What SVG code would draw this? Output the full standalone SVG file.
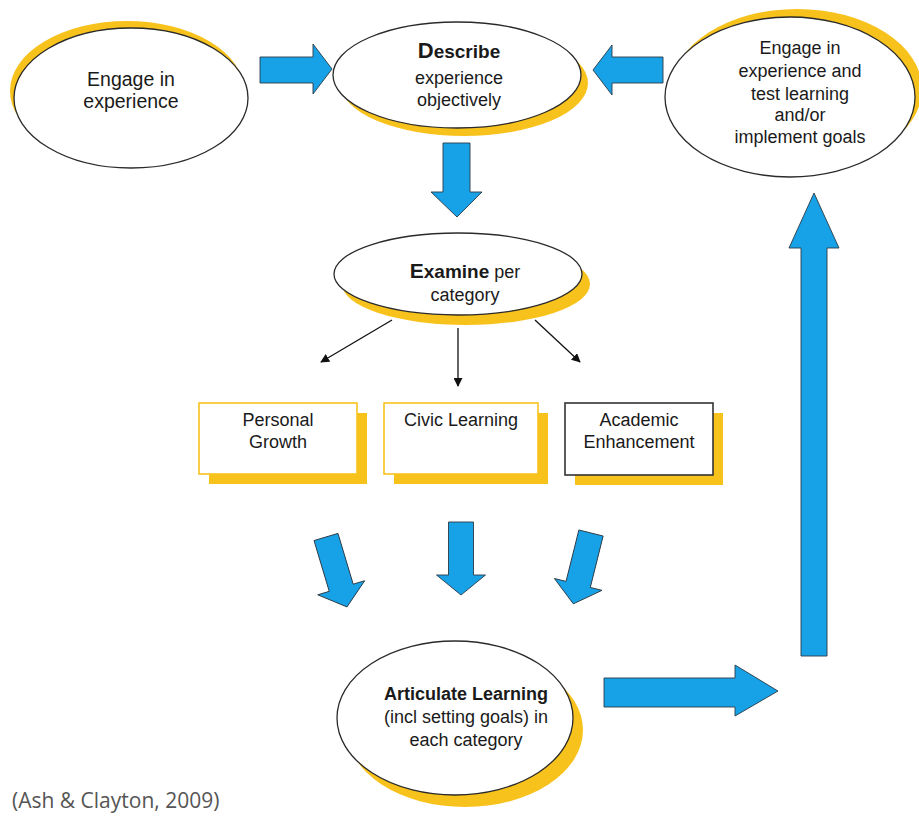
<svg xmlns="http://www.w3.org/2000/svg" width="919" height="817" viewBox="0 0 919 817">
<style>
.t{font-family:"Liberation Sans",Arial,sans-serif;font-size:18px;fill:#1a1a1a;text-anchor:middle}
.b{font-weight:bold}
.ell{fill:#fff;stroke:#2a2a2a;stroke-width:1.3}
.yel{fill:#f8c21d}
.blue{fill:#17a2e8;stroke:#2b3a45;stroke-width:0.9;stroke-linejoin:miter}
.box{fill:#fff;stroke-width:1.6}
.thin{stroke:#111;stroke-width:1.3;fill:none;marker-end:url(#ah)}
.cite{font-family:"Open Sans","DejaVu Sans",sans-serif;font-size:21px;fill:#555}
</style>
<defs>
<marker id="ah" viewBox="0 0 10 10" refX="9" refY="5" markerWidth="9" markerHeight="9" markerUnits="userSpaceOnUse" orient="auto">
<path d="M0,0 L10,5 L0,10 z" fill="#111"/>
</marker>
<path id="dn" d="M-12.5,0 L12.5,0 L12.5,53 L24.5,53 L0,73 L-24.5,53 L-12.5,53 Z"/>
</defs>
<rect width="919" height="817" fill="#fff"/>

<g id="engage">
<ellipse class="yel" cx="127" cy="91" rx="117" ry="70"/>
<ellipse class="ell" cx="131" cy="98" rx="117" ry="70"/>
<text class="t" x="131" y="86" style="font-size:19.5px">Engage in</text>
<text class="t" x="131" y="108" style="font-size:19.5px">experience</text>
</g>

<g id="describe">
<ellipse class="yel" cx="464" cy="83" rx="124" ry="53"/>
<ellipse class="ell" cx="457" cy="75" rx="124" ry="53"/>
<text class="t b" x="459" y="58"><tspan font-size="22">D</tspan><tspan font-size="19">escribe</tspan></text>
<text class="t" x="459" y="84">experience</text>
<text class="t" x="459" y="106">objectively</text>
</g>

<g id="engage-test">
<ellipse class="yel" cx="797" cy="89" rx="125" ry="80"/>
<ellipse class="ell" cx="790" cy="97" rx="125" ry="80"/>
<text class="t" x="800" y="54">Engage in</text>
<text class="t" x="800" y="77">experience and</text>
<text class="t" x="800" y="100">test learning</text>
<text class="t" x="800" y="121">and/or</text>
<text class="t" x="800" y="143">implement goals</text>
</g>

<g id="examine">
<ellipse class="yel" cx="466" cy="284" rx="124" ry="41"/>
<ellipse class="ell" cx="458" cy="274" rx="124" ry="41"/>
<text class="t" x="465" y="278"><tspan class="b" font-size="21">E</tspan><tspan class="b" font-size="19">xamine</tspan> per</text>
<text class="t" x="465" y="301">category</text>
</g>

<g id="personal">
<rect class="yel" x="209" y="413" width="158" height="71"/>
<rect class="box" x="199" y="403" width="158" height="71" stroke="#f8c21d"/>
<text class="t" x="278" y="426">Personal</text>
<text class="t" x="278" y="448">Growth</text>
</g>

<g id="civic">
<rect class="yel" x="394" y="413" width="154" height="71"/>
<rect class="box" x="384" y="403" width="154" height="71" stroke="#f8c21d"/>
<text class="t" x="461" y="426">Civic Learning</text>
</g>

<g id="academic">
<rect class="yel" x="575" y="413" width="148" height="72"/>
<rect class="box" x="565" y="403" width="148" height="72" stroke="#333"/>
<text class="t" x="639" y="426">Academic</text>
<text class="t" x="639" y="448">Enhancement</text>
</g>

<g id="articulate">
<ellipse class="yel" cx="465" cy="730" rx="118" ry="77"/>
<ellipse class="ell" cx="455" cy="718" rx="118" ry="77"/>
<text class="t b" x="466" y="700">Articulate Learning</text>
<text class="t" x="466" y="723">(incl setting goals) in</text>
<text class="t" x="466" y="746">each category</text>
</g>

<g id="connectors">
<path class="blue" d="M260,57 L313,57 L313,44 L332,69 L313,94 L313,83 L260,83 Z"/>
<path class="blue" d="M663,57 L612,57 L612,45 L593,70 L612,95 L612,83 L663,83 Z"/>
<path class="blue" d="M443,143 L470,143 L470,192 L482,192 L457,217 L431,192 L443,192 Z"/>
<line class="thin" x1="392" y1="320" x2="321" y2="362"/>
<line class="thin" x1="458" y1="328" x2="458" y2="386"/>
<line class="thin" x1="535" y1="320" x2="580" y2="362"/>
<use href="#dn" class="blue" transform="translate(326,537) rotate(-16.7)"/>
<use href="#dn" class="blue" transform="translate(461,522)"/>
<use href="#dn" class="blue" transform="translate(591,533) rotate(14)"/>
<path class="blue" d="M604,678 L735,678 L735,665 L778,691 L735,716 L735,707 L604,707 Z"/>
<path class="blue" d="M801,656 L801,248 L789,248 L814,193 L839,248 L827,248 L827,656 Z"/>
</g>

<text class="cite" x="12" y="808">(Ash &amp; Clayton, 2009)</text>
</svg>
